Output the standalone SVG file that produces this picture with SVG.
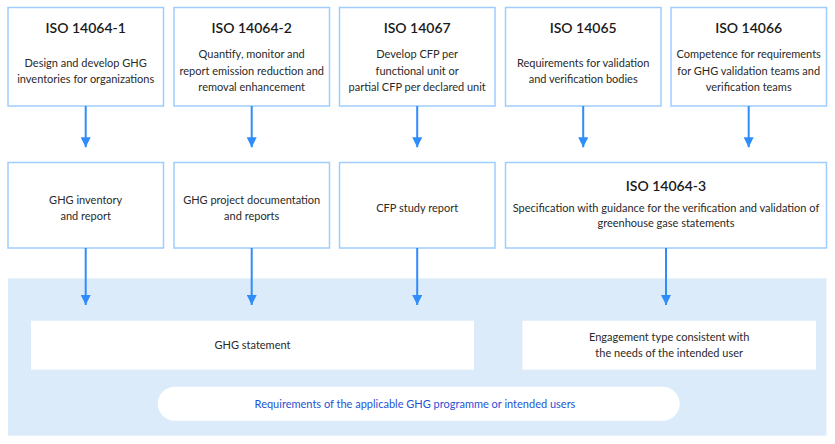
<svg xmlns="http://www.w3.org/2000/svg" width="835" height="444" viewBox="0 0 835 444">
<defs>
<marker id="ah" viewBox="0 0 10 10" refX="10" refY="5" markerWidth="10" markerHeight="10" markerUnits="userSpaceOnUse" orient="auto">
<path d="M0,0 L10,5 L0,10 Z" fill="#2f8dfb"/>
</marker>
<style>
.box{fill:#fff;stroke:#9fcdfd;stroke-width:1.5}
.inner{fill:#fff}
.t{font-family:Lato,"Liberation Sans",sans-serif;font-size:14px;font-weight:600;fill:#1a1a1a;text-anchor:middle}
.b{font-family:Lato,"Liberation Sans",sans-serif;font-size:11px;fill:#2a2a2a;text-anchor:middle}
.p{font-family:Lato,"Liberation Sans",sans-serif;font-size:11px;fill:#2553d4;text-anchor:middle}
.c{stroke:#2f8dfb;stroke-width:2;fill:none}
</style>
</defs>
<rect id="background" x="8" y="278.3" width="818.5" height="157.4" fill="#dbebfa"/>
<g id="iso14064-1">
<rect class="box" x="8" y="7.5" width="155.5" height="98.5"/>
<text class="t" x="85.7" y="33">ISO 14064-1</text>
<text class="b" x="85.7" y="67.3">Design and develop GHG</text>
<text class="b" x="85.7" y="83">inventories for organizations</text>
</g>
<g id="iso14064-2">
<rect class="box" x="174" y="7.5" width="155.5" height="98.5"/>
<text class="t" x="251.7" y="33">ISO 14064-2</text>
<text class="b" x="251.7" y="58.3">Quantify, monitor and</text>
<text class="b" x="251.7" y="75">report emission reduction and</text>
<text class="b" x="251.7" y="90.7">removal enhancement</text>
</g>
<g id="iso14067">
<rect class="box" x="339.5" y="7.5" width="155.5" height="98.5"/>
<text class="t" x="417.2" y="33">ISO 14067</text>
<text class="b" x="417.2" y="58.3">Develop CFP per</text>
<text class="b" x="417.2" y="75">functional unit or</text>
<text class="b" x="417.2" y="90.7">partial CFP per declared unit</text>
</g>
<g id="iso14065">
<rect class="box" x="505.5" y="7.5" width="155.5" height="98.5"/>
<text class="t" x="583.2" y="33">ISO 14065</text>
<text class="b" x="583.2" y="67.3">Requirements for validation</text>
<text class="b" x="583.2" y="83">and verification bodies</text>
</g>
<g id="iso14066">
<rect class="box" x="671" y="7.5" width="155.5" height="98.5"/>
<text class="t" x="748.7" y="33">ISO 14066</text>
<text class="b" x="748.7" y="58.3">Competence for requirements</text>
<text class="b" x="748.7" y="75">for GHG validation teams and</text>
<text class="b" x="748.7" y="90.7">verification teams</text>
</g>
<g id="ghg-inventory">
<rect class="box" x="8" y="162.5" width="155.5" height="85.5"/>
<text class="b" x="85.7" y="204">GHG inventory</text>
<text class="b" x="85.7" y="219.7">and report</text>
</g>
<g id="ghg-project">
<rect class="box" x="174" y="162.5" width="155.5" height="85.5"/>
<text class="b" x="251.7" y="204">GHG project documentation</text>
<text class="b" x="251.7" y="219.7">and reports</text>
</g>
<g id="cfp-study">
<rect class="box" x="339.5" y="162.5" width="155.5" height="85.5"/>
<text class="b" x="417.2" y="211.7">CFP study report</text>
</g>
<g id="iso14064-3">
<rect class="box" x="505.5" y="162.5" width="321" height="85.5"/>
<text class="t" x="666" y="190.7">ISO 14064-3</text>
<text class="b" x="666" y="211.7">Specification with guidance for the verification and validation of</text>
<text class="b" x="666" y="227.3">greenhouse gase statements</text>
</g>
<g id="ghg-statement">
<rect class="inner" x="31" y="320.7" width="443" height="49"/>
<text class="b" x="252.5" y="349">GHG statement</text>
</g>
<g id="engagement">
<rect class="inner" x="522.5" y="320.7" width="293.5" height="49"/>
<text class="b" x="669.2" y="341.3">Engagement type consistent with</text>
<text class="b" x="669.2" y="357.3">the needs of the intended user</text>
</g>
<g id="requirements">
<rect class="inner" x="157.7" y="386.7" width="522" height="34" rx="17" ry="17"/>
<text class="p" x="415" y="408.3">Requirements of the applicable GHG programme or intended users</text>
</g>
<g id="connectors">
<line class="c" x1="85.7" y1="106" x2="85.7" y2="147.3" marker-end="url(#ah)"/>
<line class="c" x1="251.7" y1="106" x2="251.7" y2="147.3" marker-end="url(#ah)"/>
<line class="c" x1="417.2" y1="106" x2="417.2" y2="147.3" marker-end="url(#ah)"/>
<line class="c" x1="583.2" y1="106" x2="583.2" y2="147.3" marker-end="url(#ah)"/>
<line class="c" x1="748.7" y1="106" x2="748.7" y2="147.3" marker-end="url(#ah)"/>
<line class="c" x1="85.7" y1="248" x2="85.7" y2="305" marker-end="url(#ah)"/>
<line class="c" x1="251.7" y1="248" x2="251.7" y2="305" marker-end="url(#ah)"/>
<line class="c" x1="417.2" y1="248" x2="417.2" y2="305" marker-end="url(#ah)"/>
<line class="c" x1="666" y1="248" x2="666" y2="305" marker-end="url(#ah)"/>
</g>
</svg>
